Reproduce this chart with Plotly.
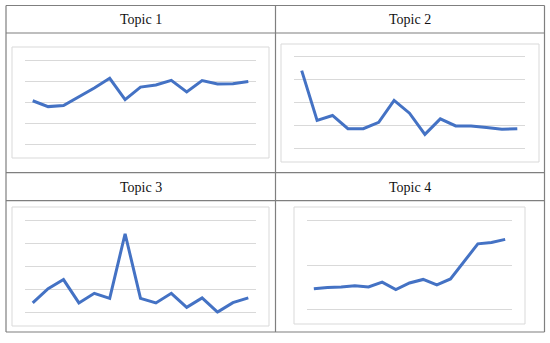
import plotly.graph_objects as go

W, H = 550, 343

categories = list(range(1, 16))
topic1 = [2.06, 1.78, 1.83, 2.24, 2.67, 3.13, 2.11, 2.71, 2.81, 3.03, 2.48, 3.02, 2.86, 2.87, 2.98]
topic2 = [3.40, 1.21, 1.43, 0.85, 0.85, 1.13, 2.09, 1.53, 0.60, 1.28, 0.97, 0.97, 0.90, 0.82, 0.85]
topic3 = [0.41, 1.03, 1.43, 0.41, 0.83, 0.61, 3.43, 0.61, 0.41, 0.83, 0.22, 0.63, 0.01, 0.42, 0.63]
topic4 = [0.47, 0.50, 0.51, 0.54, 0.51, 0.62, 0.45, 0.60, 0.68, 0.56, 0.69, 1.09, 1.48, 1.51, 1.58]
titles = ["Topic 1", "Topic 2", "Topic 3", "Topic 4"]
series = [topic1, topic2, topic3, topic4]
ymax = [4, 4, 4, 2]

# panel plot areas in pixels: x0, x1, y_top(ymax), y_bottom(0)
areas = [
    (25, 256, 60, 144),
    (294, 525, 57, 148),
    (25, 256, 220.7, 312.3),
    (307, 512, 220.7, 309.7),
]
boxes = [
    (12, 269, 47, 158),
    (281, 539, 44, 162),
    (12, 269, 207, 326),
    (294, 525, 207, 324),
]

def px(x):
    return x / W

def py(y):
    return 1 - y / H

fig = go.Figure()
shapes = []
annotations = []
GRID = "#d9d9d9"
TABLE = "#7f7f7f"

for i in range(4):
    x0, x1, yt, yb = areas[i]
    ym = ymax[i]
    e = 0.06
    ppu = (yb - yt) / ym
    d_top = yt - e * ppu
    d_bot = yb + e * ppu
    xa = "xaxis" if i == 0 else f"xaxis{i+1}"
    ya = "yaxis" if i == 0 else f"yaxis{i+1}"
    xr = "x" if i == 0 else f"x{i+1}"
    yr = "y" if i == 0 else f"y{i+1}"
    fig.add_trace(go.Scatter(
        x=categories, y=series[i], mode="lines",
        line=dict(color="#4472C4", width=3),
        xaxis=xr, yaxis=yr, showlegend=False, hoverinfo="skip"))
    fig.layout[xa] = dict(domain=[px(x0), px(x1)], range=[0.5, 15.5],
                          showgrid=False, zeroline=False, showticklabels=False,
                          ticks="", showline=False, anchor=yr, fixedrange=True)
    fig.layout[ya] = dict(domain=[py(d_bot), py(d_top)], range=[-e, ym + e],
                          showgrid=True, gridcolor=GRID, gridwidth=1, dtick=1,
                          tick0=0, zeroline=False, showticklabels=False,
                          ticks="", showline=False, anchor=xr, fixedrange=True)
    bx0, bx1, by0, by1 = boxes[i]
    shapes.append(dict(type="rect", xref="paper", yref="paper",
                       x0=px(bx0), x1=px(bx1), y0=py(by1), y1=py(by0),
                       line=dict(color=GRID, width=1), layer="below"))

# table lines
tx0, tx1, tmid = 6, 544.5, 275.5
ty0, th1, tmidy, th2, ty1 = 5.5, 33, 172.7, 200.7, 332
def hline(y):
    shapes.append(dict(type="line", xref="paper", yref="paper",
                       x0=px(tx0), x1=px(tx1), y0=py(y), y1=py(y),
                       line=dict(color=TABLE, width=1.2)))
def vline(x):
    shapes.append(dict(type="line", xref="paper", yref="paper",
                       x0=px(x), x1=px(x), y0=py(ty0), y1=py(ty1),
                       line=dict(color=TABLE, width=1.2)))
for y in (ty0, th1, tmidy, th2, ty1):
    hline(y)
for x in (tx0, tmid, tx1):
    vline(x)

title_pos = [((tx0 + tmid) / 2, 19.5), ((tmid + tx1) / 2, 19.5),
             ((tx0 + tmid) / 2, 187), ((tmid + tx1) / 2, 187)]
for t, (x, y) in zip(titles, title_pos):
    annotations.append(dict(text=t, x=px(x), y=py(y), xref="paper", yref="paper",
                            showarrow=False, xanchor="center", yanchor="middle",
                            font=dict(family="Liberation Serif, DejaVu Serif, serif",
                                      size=14, color="#111111")))

fig.update_layout(width=W, height=H, margin=dict(l=0, r=0, t=0, b=0),
                  paper_bgcolor="white", plot_bgcolor="white",
                  shapes=shapes, annotations=annotations)

fig.write_html("out.html", config={"displayModeBar": False},
               post_script="document.body.style.margin='0';document.body.style.overflow='hidden';")
